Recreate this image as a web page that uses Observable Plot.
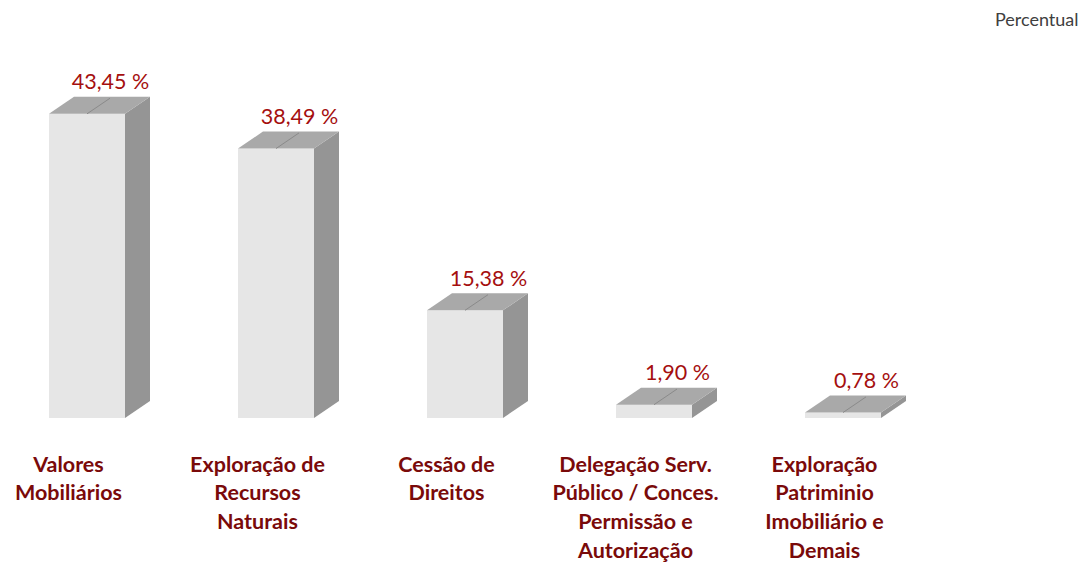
<!DOCTYPE html>
<html>
<head>
<meta charset="utf-8">
<script src="https://cdn.jsdelivr.net/npm/d3@7"></script>
<script src="https://cdn.jsdelivr.net/npm/@observablehq/plot@0.6"></script>
<style>
  html, body { margin: 0; padding: 0; background: #fff; }
  #chart { width: 1088px; height: 563px; }
</style>
</head>
<body>
<div id="chart"></div>
<script>
const categories = [
  "Valores\nMobiliários",
  "Exploração de\nRecursos\nNaturais",
  "Cessão de\nDireitos",
  "Delegação Serv.\nPúblico / Conces.\nPermissão e\nAutorização",
  "Exploração\nPatriminio\nImobiliário e\nDemais"
];
const values = [43.45, 38.49, 15.38, 1.90, 0.78];
const unitLabel = "Percentual";

const data = categories.map((c, i) => ({cat: c, value: values[i]}));
const fmt = v => v.toFixed(2).replace(".", ",") + " %";

const DX = 25, DY = 17;
const FRONT = "#e6e6e6", TOP = "#a9a9a9", SIDE = "#959595";

function depthFaces(index, scales) {
  const x = scales.x, y = scales.y;
  const bw = x.bandwidth();
  const g = d3.create("svg:g");
  for (const d of data) {
    const x0 = x(d.cat), x1 = x0 + bw;
    const y0 = y(0), y1 = y(d.value);
    // side face
    g.append("path")
      .attr("d", `M${x1},${y0}L${x1 + DX},${y0 - DY}L${x1 + DX},${y1 - DY}L${x1},${y1}Z`)
      .attr("fill", SIDE);
    // top face
    g.append("path")
      .attr("d", `M${x0},${y1}L${x1},${y1}L${x1 + DX},${y1 - DY}L${x0 + DX},${y1 - DY}Z`)
      .attr("fill", TOP);
    // faint gridline on top face
    const xm = x0 + bw / 2;
    g.append("path")
      .attr("d", `M${xm},${y1}L${xm + DX * 0.92},${y1 - DY * 0.92}`)
      .attr("stroke", "#8a8a8a")
      .attr("stroke-width", 1)
      .attr("fill", "none");
  }
  return g.node();
}

const plot = Plot.plot({
  width: 1088,
  height: 563,
  marginLeft: 0,
  marginRight: 159,
  marginTop: 68,
  marginBottom: 145,
  style: {fontFamily: "Lato, 'Open Sans', sans-serif", background: "#fff"},
  x: {domain: categories, paddingInner: 0.598, paddingOuter: 0.254, axis: null},
  y: {domain: [0, 50], axis: null},
  marks: [
    Plot.barY(data, {x: "cat", y: "value", fill: FRONT}),
    depthFaces,
    Plot.text(data, {
      x: "cat", y: "value", text: d => fmt(d.value),
      dx: 23, dy: -32, fill: "#a50f0f", fontSize: 21.5
    }),
    Plot.text(data, {
      x: "cat", text: "cat", frameAnchor: "bottom", lineAnchor: "top",
      dx: -19, dy: 33, fill: "#7a0a0a", fontSize: 21.5, fontWeight: "bold",
      lineHeight: 1.33
    }),
    Plot.text([unitLabel], {
      text: d => d, frameAnchor: "top-right", textAnchor: "end",
      dx: 149, dy: -55, fill: "#404040", fontSize: 18
    })
  ]
});
document.getElementById("chart").appendChild(plot);
</script>
</body>
</html>
